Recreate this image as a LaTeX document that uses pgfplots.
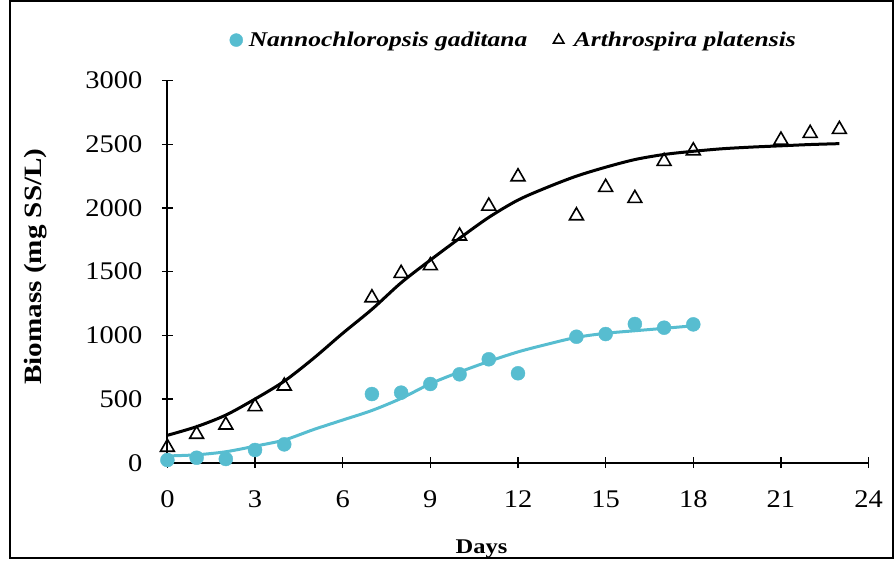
\documentclass[border=0pt]{standalone}
\usepackage{fontspec}
\setmainfont{Liberation Serif}
\newfontfamily\tickfont[FakeStretch=1.12]{Liberation Serif}
\newfontfamily\labfont[FakeStretch=1.17]{Liberation Serif}
\newfontfamily\legfont[FakeStretch=1.22]{Liberation Serif}
\usepackage{pgfplots}
\pgfplotsset{compat=1.18}
\definecolor{nanno}{RGB}{87,189,208}

\pgfplotstableread{
day val
0 21
1 39
2 29
3 100
4 144
7 539
8 550
9 618
10 694
11 812
12 702
14 989
15 1010
16 1089
17 1060
18 1086
}\nannopts

\pgfplotstableread{
day val
0 121
1 223
2 296
3 440
4 602
7 1295
8 1487
9 1547
10 1780
11 2015
12 2245
14 1939
15 2162
16 2075
17 2366
18 2449
21 2533
22 2586
23 2617
}\arthpts

\pgfplotstableread{
day val
0 53
1 62
2 86
3 130
4 178
5 260
6 335
7 410
8 505
9 620
10 712
11 795
12 870
13 930
14 984
15 1016
16 1036
17 1055
18 1075
}\nannofit

\pgfplotstableread{
day val
0 215
1 283
2 374
3 500
4 640
5 819
6 1016
7 1204
8 1413
9 1591
10 1762
11 1926
12 2062
13 2162
14 2250
15 2320
16 2380
17 2420
18 2445
19 2465
20 2478
21 2488
22 2498
23 2505
}\arthfit

\begin{document}
\begin{tikzpicture}
\useasboundingbox (0,0) rectangle (896bp,562bp);
\draw[line width=2bp] (10bp,4bp) rectangle (893bp,561bp);
\begin{axis}[
  at={(167.4bp,99.3bp)}, anchor=south west,
  scale only axis, width=701.2bp, height=382.1bp,
  xmin=0, xmax=24, ymin=0, ymax=3000,
  axis x line*=bottom, axis y line*=left,
  xtick={0,3,...,24}, ytick={0,500,...,3000},
  tick align=center, major tick length=11bp,
  axis line style={line width=1.8bp},
  tick style={line width=1.5bp, black},
  clip=false,
  /pgf/number format/assume math mode=true,
  /pgf/number format/1000 sep={},
  ticklabel style={font=\tickfont\fontsize{25.5}{25.5}\selectfont},
  xticklabel style={yshift=-19bp},
  yticklabel style={xshift=-16bp},
  xlabel={Days}, ylabel={Biomass (mg SS/L)},
  xlabel style={font=\labfont\bfseries\fontsize{21}{21}\selectfont,
    at={(axis description cs:0.448,-0.237)}, anchor=base},
  ylabel style={font=\labfont\bfseries\fontsize{25}{25}\selectfont,
    at={(axis description cs:-0.179,0.513)}, anchor=base},
  legend columns=2,
  legend style={draw=none, fill=none,
    font=\legfont\bfseries\itshape\fontsize{21}{21}\selectfont,
    at={(axis description cs:0.494,1.106)}, anchor=center,
    /tikz/every odd column/.append style={column sep=4bp},
    /tikz/every even column/.append style={column sep=24bp}},
]
\addplot[nanno, line width=3bp, smooth, forget plot] table[x=day,y=val]{\nannofit};
\addplot[black, line width=3bp, smooth, forget plot] table[x=day,y=val]{\arthfit};
\addplot[only marks, mark=*, mark size=7bp, color=nanno, fill=nanno,
  legend image code/.code={\draw[nanno,fill=nanno] plot[mark=*, mark size=6.5bp] coordinates {(0bp,0bp)};}]
  table[x=day,y=val]{\nannopts};
\addlegendentry{Nannochloropsis gaditana}
\addplot[only marks, mark=triangle, mark size=8bp, black, mark options={line width=1.6bp, fill=white},
  legend image code/.code={\draw[black, line width=1.1bp] plot[mark=triangle, mark size=6bp] coordinates {(0bp,0bp)}; \path (9bp,0bp);}]
  table[x=day,y=val]{\arthpts};
\addlegendentry{Arthrospira platensis}
\end{axis}
\end{tikzpicture}
\end{document}
